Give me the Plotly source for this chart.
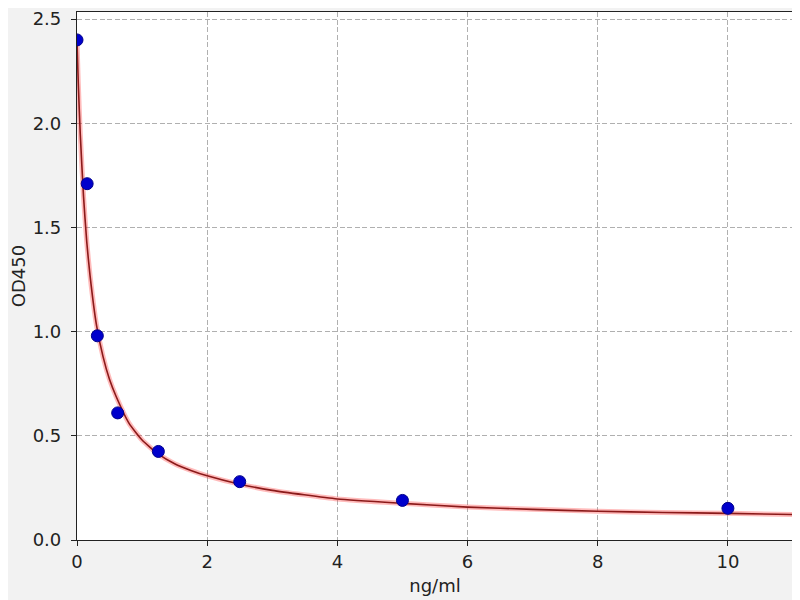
"""ELISA standard curve: OD450 against concentration, with the fitted curve."""
import plotly.graph_objects as go

# measured standards
conc = [0, 0.156, 0.3125, 0.625, 1.25, 2.5, 5, 10]
od450 = [2.40, 1.71, 0.98, 0.61, 0.425, 0.28, 0.19, 0.152]

# fitted curve
fit_x = [0, 0.01, 0.02, 0.05, 0.1, 0.15, 0.2, 0.3, 0.4, 0.5, 0.6, 0.8, 1.0,
         1.25, 1.5, 1.75, 2.0, 2.5, 3, 4, 5, 6, 7, 8, 9, 10, 11]
fit_y = [2.40, 2.29, 2.19, 1.95, 1.65, 1.43, 1.27, 1.03, 0.88, 0.77, 0.69,
         0.56, 0.48, 0.412, 0.366, 0.334, 0.308, 0.268, 0.238, 0.197, 0.176,
         0.158, 0.147, 0.138, 0.132, 0.128, 0.122]

x_ticks = [0, 2, 4, 6, 8, 10]
y_ticks = [0.0, 0.5, 1.0, 1.5, 2.0, 2.5]

font = dict(family="DejaVu Sans", size=18, color="#222222")

fig = go.Figure()
# soft glow under the line
fig.add_trace(go.Scatter(x=fit_x, y=fit_y, mode="lines",
                         line=dict(color="rgba(255,60,60,0.35)", width=5,
                                   shape="spline", smoothing=0.5),
                         hoverinfo="skip", showlegend=False))
fig.add_trace(go.Scatter(x=fit_x, y=fit_y, mode="lines",
                         line=dict(color="#8b1a1a", width=1.6,
                                   shape="spline", smoothing=0.5),
                         showlegend=False))
fig.add_trace(go.Scatter(x=conc, y=od450, mode="markers",
                         marker=dict(color="#0000cc", size=12,
                                     line=dict(color="#00008b", width=1)),
                         showlegend=False))

axis_common = dict(
    showline=True, linecolor="#222222", linewidth=1.2, mirror=True,
    ticks="outside", ticklen=5, tickcolor="#222222", tickwidth=1.2,
    showgrid=True, gridcolor="#b0b0b0", griddash="5px,2.5px", gridwidth=1,
    zeroline=False, tickfont=font, automargin=False,
    ticklabeloverflow="allow",
)

# page body adds an 8px offset, so the figure is a bit smaller than the window
fig.update_layout(
    width=792, height=592,
    margin=dict(l=69, r=7, t=4, b=60),
    paper_bgcolor="#f2f2f2", plot_bgcolor="white",
    font=font,
    xaxis=dict(range=[0, 11], tickvals=x_ticks,
               title=dict(text="ng/ml", font=font, standoff=8),
               **axis_common),
    yaxis=dict(range=[0, 2.534], tickvals=y_ticks, tickformat=".1f",
               ticklabelstandoff=6,
               title=dict(text="OD450", font=font, standoff=3),
               **axis_common),
)

fig.write_html("out.html")
